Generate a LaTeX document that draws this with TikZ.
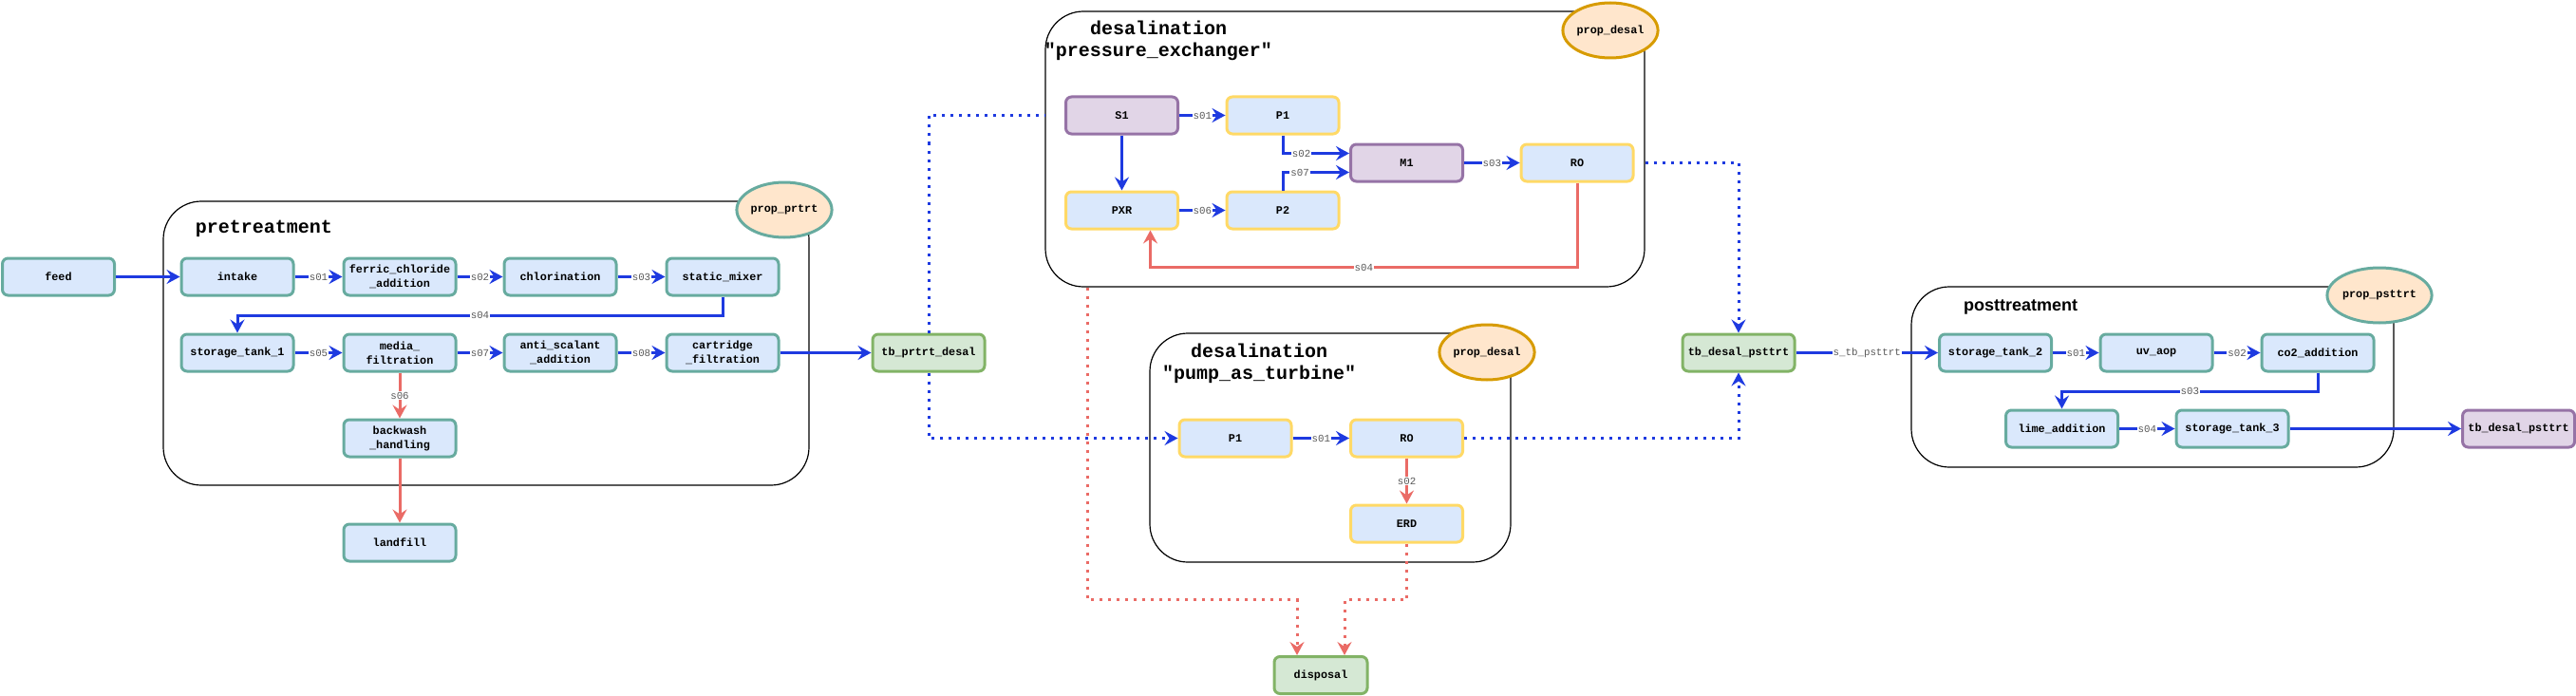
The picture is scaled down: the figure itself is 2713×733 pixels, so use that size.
\documentclass[tikz,border=0pt]{standalone}
\usepackage{fontspec}
\setmainfont{Liberation Sans}
\setsansfont{Liberation Sans}
\setmonofont{Liberation Mono}
\usepackage{xcolor}
\usepackage{tikz}
\usetikzlibrary{arrows.meta,positioning,shapes,calc}

\definecolor{flowblue}{RGB}{30,58,224}
\definecolor{flowred}{RGB}{234,107,102}
\definecolor{ndfill}{HTML}{DAE8FC}
\definecolor{tealline}{HTML}{67AB9F}
\definecolor{goldline}{HTML}{FFD966}
\definecolor{mixfill}{HTML}{E1D5E7}
\definecolor{mixline}{HTML}{9673A6}
\definecolor{tbfill}{HTML}{D5E8D4}
\definecolor{tbline}{HTML}{82B366}
\definecolor{propfill}{HTML}{FFE6CC}
\definecolor{propline}{HTML}{D79B00}

\begin{document}
\begin{tikzpicture}[
  x=0.5pt, y=-0.5pt,
  nd/.style={rectangle, rounded corners=3pt, draw=tealline, fill=ndfill, line width=1.5pt,
             minimum width=59pt, minimum height=19.5pt, inner sep=1pt, align=center,
             font=\ttfamily\bfseries\fontsize{5.9}{7.5}\selectfont},
  ux/.style={nd, draw=goldline},
  mx/.style={nd, draw=mixline, fill=mixfill},
  tb/.style={nd, draw=tbline, fill=tbfill},
  prop/.style={ellipse, draw=tealline, fill=propfill, line width=1.5pt, inner sep=0pt,
             minimum width=44pt, minimum height=29pt, font=\ttfamily\bfseries\fontsize{5.9}{7}\selectfont},
  grp/.style={rectangle, rounded corners=20pt, draw=black, line width=0.6pt, inner sep=0pt},
  ttl/.style={align=center, font=\ttfamily\bfseries\fontsize{10}{11.5}\selectfont},
  lbl/.style={fill=white, inner sep=0.5pt, text=black!65, font=\ttfamily\fontsize{5.4}{6}\selectfont},
  tip/.style={-{Stealth[length=7pt,width=7.5pt,inset=2.5pt]}},
  fl/.style={draw=flowblue, line width=1.5pt, tip},
  flr/.style={draw=flowred, line width=1.5pt, tip},
  dotb/.style={draw=flowblue, line width=1.5pt, dash pattern=on 1.5pt off 3pt},
  dotr/.style={draw=flowred, line width=1.5pt, dash pattern=on 1.5pt off 3pt}
]
  \useasboundingbox (0,0) rectangle (2713,733);

  \node[grp, minimum width=340pt, minimum height=149.5pt] (prtrtbox) at (512,361.5) {};
  \node[grp, minimum width=315.5pt, minimum height=145pt] (pxbox) at (1416.5,157) {};
  \node[grp, minimum width=190pt, minimum height=120.5pt] (ptbox) at (1401,471.5) {};
  \node[grp, minimum width=254pt, minimum height=95pt] (psbox) at (2267,397) {};

  \node[prop] (propprtrt) at (826,221) {prop\_prtrt};
  \node[prop, draw=propline] (propdesal) at (1696,32) {prop\_desal};
  \node[prop, draw=propline] (propdesalb) at (1566,371) {prop\_desal};
  \node[prop] (proppsttrt) at (2506,311) {prop\_psttrt};

  \node[ttl] (tprtrt) at (278,241) {pretreatment};
  \node[ttl] (tpx) at (1220,43) {desalination\\"pressure\_exchanger"};
  \node[ttl] (tpt) at (1326,383) {desalination\\"pump\_as\_turbine"};
  \node[font=\sffamily\bfseries\fontsize{9}{11}\selectfont] (tps) at (2128,323) {posttreatment};

  \node[nd] (feed) at (61.5,291.5) {feed};
  \node[nd] (intake) at (250,291.5) {intake};
  \node[nd] (fca) at (421,291.5) {ferric\_chloride\\\_addition};
  \node[nd] (chlor) at (590,291.5) {chlorination};
  \node[nd] (smix) at (761,291.5) {static\_mixer};
  \node[nd] (st1) at (250,371.5) {storage\_tank\_1};
  \node[nd] (mf) at (421,371.5) {media\_\\filtration};
  \node[nd] (asa) at (590,371.5) {anti\_scalant\\\_addition};
  \node[nd] (cf) at (761,371.5) {cartridge\\\_filtration};
  \node[nd] (bwh) at (421,461.5) {backwash\\\_handling};
  \node[nd] (landfill) at (421,571.5) {landfill};
  \node[tb] (tbpd) at (978,371.5) {tb\_prtrt\_desal};

  \node[mx] (S1) at (1181.5,121.5) {S1};
  \node[ux] (P1) at (1351,121.5) {P1};
  \node[mx] (M1) at (1481.5,171.5) {M1};
  \node[ux] (RO) at (1661,171.5) {RO};
  \node[ux] (PXR) at (1181.5,221.5) {PXR};
  \node[ux] (P2) at (1351,221.5) {P2};

  \node[ux] (P1b) at (1301,461.5) {P1};
  \node[ux] (ROb) at (1481.5,461.5) {RO};
  \node[ux] (ERD) at (1481.5,551.5) {ERD};
  \node[tb, minimum width=49pt] (disposal) at (1391,711) {disposal};

  \node[tb] (tbdp) at (1831,371.5) {tb\_desal\_psttrt};
  \node[nd] (st2) at (2101.5,371.5) {storage\_tank\_2};
  \node[nd] (uv) at (2271,371.5) {uv\_aop};
  \node[nd] (co2) at (2441,371.5) {co2\_addition};
  \node[nd] (lime) at (2171.5,451.5) {lime\_addition};
  \node[nd] (st3) at (2351,451.5) {storage\_tank\_3};
  \node[mx] (tbout) at (2652.5,451.5) {tb\_desal\_psttrt};

  \draw[fl] (feed) -- (intake);
  \draw[fl] (intake) -- node[lbl]{s01} (fca);
  \draw[fl] (fca) -- node[lbl]{s02} (chlor);
  \draw[fl] (chlor) -- node[lbl]{s03} (smix);
  \draw[fl] (smix.south) -- ++(0,19.5) -| node[lbl,pos=0.25]{s04} (st1.north);
  \draw[fl] (st1) -- node[lbl]{s05} (mf);
  \draw[fl] (mf) -- node[lbl]{s07} (asa);
  \draw[fl] (asa) -- node[lbl]{s08} (cf);
  \draw[flr] (mf) -- node[lbl]{s06} (bwh);
  \draw[flr] (bwh) -- (landfill);
  \draw[fl] (cf) -- (tbpd);

  \draw[fl] (S1) -- node[lbl]{s01} (P1);
  \draw[fl] (S1) -- (PXR);
  \draw[fl] (P1.south) |- node[lbl,pos=0.64]{s02} ($(M1.west)+(0,-10)$);
  \draw[fl] (P2.north) |- node[lbl,pos=0.63]{s07} ($(M1.west)+(0,10)$);
  \draw[fl] (M1) -- node[lbl]{s03} (RO);
  \draw[fl] (PXR) -- node[lbl]{s06} (P2);
  \draw[flr] (RO.south) -- ++(0,89) -| node[lbl,pos=0.25]{s04} ($(PXR.south)+(30,0)$);

  \draw[fl] (P1b) -- node[lbl]{s01} (ROb);
  \draw[flr] (ROb) -- node[lbl]{s02} (ERD);

  \draw[dotb] (tbpd.north) |- (pxbox.west |- S1);
  \draw[dotb, tip] (tbpd.south) |- (P1b.west);
  \draw[dotb, tip] (pxbox.east |- RO) -| (tbdp.north);
  \draw[dotb, tip] (ROb.east) -| (tbdp.south);
  \draw[dotr, tip] ($(pxbox.south west)+(45,0)$) -- ++(0,329) -| ($(disposal.north)+(-25,0)$);
  \draw[dotr, tip] (ERD.south) -- ++(0,59) -| ($(disposal.north)+(25,0)$);

  \draw[fl] (tbdp) -- node[lbl]{s\_tb\_psttrt} (st2);
  \draw[fl] (st2) -- node[lbl]{s01} (uv);
  \draw[fl] (uv) -- node[lbl]{s02} (co2);
  \draw[fl] (co2.south) -- ++(0,19.5) -| node[lbl,pos=0.25]{s03} (lime.north);
  \draw[fl] (lime) -- node[lbl]{s04} (st3);
  \draw[fl] (st3) -- (tbout);
\end{tikzpicture}
\end{document}
